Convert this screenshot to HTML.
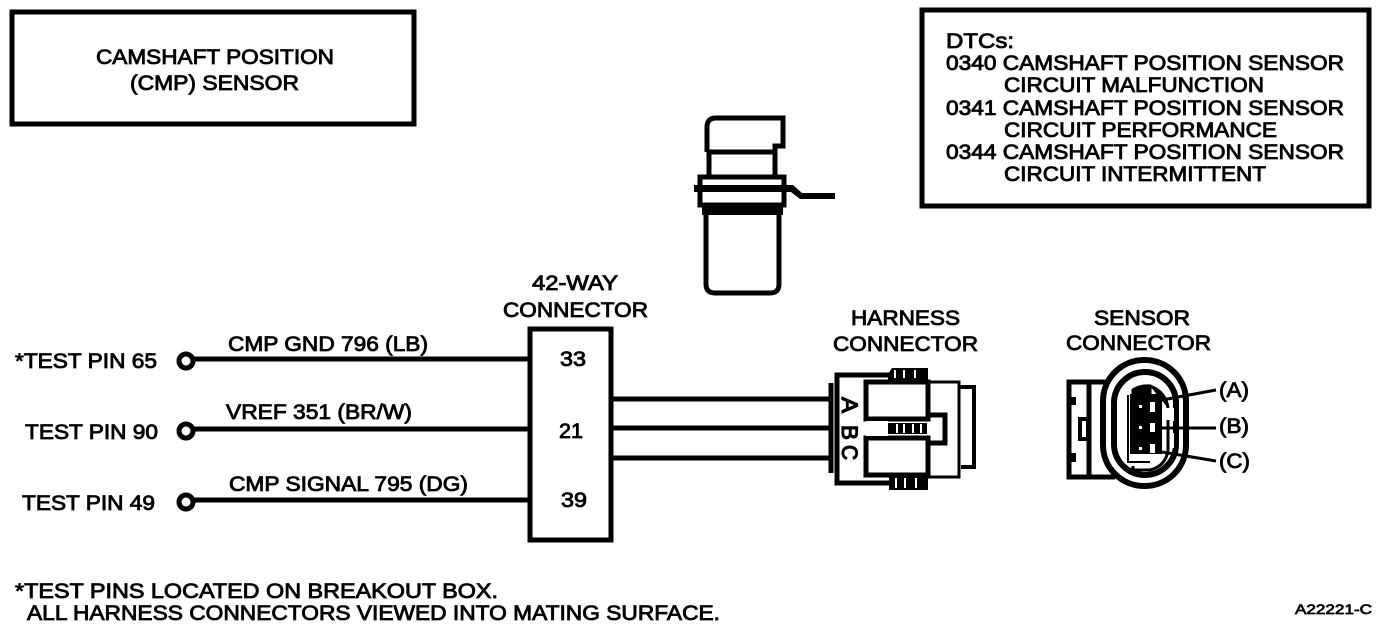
<!DOCTYPE html>
<html><head><meta charset="utf-8"><style>
html,body{margin:0;padding:0;background:#fff;width:1392px;height:628px;overflow:hidden}
svg{display:block}
text{font-family:"Liberation Sans",sans-serif;font-size:21px;fill:#000;stroke:#000;stroke-width:.85px}
.l{fill:none;stroke:#000;stroke-width:5}
</style></head><body>
<svg width="1392" height="628" viewBox="0 0 1392 628" xmlns="http://www.w3.org/2000/svg">
<rect x="12" y="12" width="402" height="112" class="l"/>
<text x="96" y="64" textLength="238" lengthAdjust="spacingAndGlyphs">CAMSHAFT POSITION</text>
<text x="130" y="90" textLength="169" lengthAdjust="spacingAndGlyphs">(CMP) SENSOR</text>
<rect x="922" y="10" width="447" height="196" class="l"/>
<text x="946" y="48" textLength="68" lengthAdjust="spacingAndGlyphs">DTCs:</text>
<text x="946" y="70" textLength="398" lengthAdjust="spacingAndGlyphs">0340 CAMSHAFT POSITION SENSOR</text>
<text x="1004" y="92" textLength="260" lengthAdjust="spacingAndGlyphs">CIRCUIT MALFUNCTION</text>
<text x="946" y="115" textLength="398" lengthAdjust="spacingAndGlyphs">0341 CAMSHAFT POSITION SENSOR</text>
<text x="1004" y="137" textLength="273" lengthAdjust="spacingAndGlyphs">CIRCUIT PERFORMANCE</text>
<text x="946" y="159" textLength="398" lengthAdjust="spacingAndGlyphs">0344 CAMSHAFT POSITION SENSOR</text>
<text x="1004" y="181" textLength="262" lengthAdjust="spacingAndGlyphs">CIRCUIT INTERMITTENT</text>

<!-- sensor -->
<path class="l" d="M707 152V127Q707 118 716 118H783V146H775V152H707M775 152V176M709 152V176"/>
<rect x="700" y="177" width="84" height="28" fill="#fff" stroke="#000" stroke-width="5"/>
<path d="M694 185H793L802 193H835V199H800L791 192H694Z" fill="#000"/>
<rect x="702" y="204" width="81" height="11" fill="#000"/>
<path class="l" d="M706 214V284Q706 293 715 293H770Q779 293 779 284V214"/>

<!-- left -->
<text x="15" y="368" textLength="142" lengthAdjust="spacingAndGlyphs">*TEST PIN 65</text>
<text x="25" y="439" textLength="133" lengthAdjust="spacingAndGlyphs">TEST PIN 90</text>
<text x="22" y="510" textLength="133" lengthAdjust="spacingAndGlyphs">TEST PIN 49</text>
<circle cx="186" cy="361" r="7" class="l"/><circle cx="186" cy="431" r="7" class="l"/><circle cx="186" cy="502" r="7" class="l"/>
<path class="l" d="M194 359H530M194 429H530M194 500H530"/>
<text x="228" y="351" textLength="200" lengthAdjust="spacingAndGlyphs">CMP GND 796 (LB)</text>
<text x="226" y="419" textLength="186" lengthAdjust="spacingAndGlyphs">VREF 351 (BR/W)</text>
<text x="229" y="491" textLength="239" lengthAdjust="spacingAndGlyphs">CMP SIGNAL 795 (DG)</text>

<text x="532" y="290" textLength="86" lengthAdjust="spacingAndGlyphs">42-WAY</text>
<text x="503" y="317" textLength="145" lengthAdjust="spacingAndGlyphs">CONNECTOR</text>
<rect x="530" y="329" width="81" height="211" class="l"/>
<text x="560" y="366" textLength="26" lengthAdjust="spacingAndGlyphs">33</text>
<text x="559" y="438" textLength="24" lengthAdjust="spacingAndGlyphs">21</text>
<text x="561" y="507" textLength="26" lengthAdjust="spacingAndGlyphs">39</text>
<path class="l" d="M611 399H830M611 428H830M611 458H830"/>

<!-- harness -->
<text x="851" y="325" textLength="109" lengthAdjust="spacingAndGlyphs">HARNESS</text>
<text x="833" y="351" textLength="145" lengthAdjust="spacingAndGlyphs">CONNECTOR</text>
<path d="M888 374L892 368H928V380H888ZM889 476H928V490H889Z" fill="#000"/>
<path d="M895 370V378M904 370V378M915 370V378M896 478V488M905 478V488M916 478V488" stroke="#fff" stroke-width="2"/>
<path d="M831 383V473" stroke="#000" stroke-width="5" fill="none"/>
<path d="M889 375H837V483H892" fill="none" stroke="#000" stroke-width="5"/>
<!-- plug blocks -->
<path class="l" d="M866 382H928V419H866ZM866 438H928V475H866Z" fill="#fff"/>
<path d="M928 382H959V477H926" fill="none" stroke="#000" stroke-width="3"/>
<path class="l" d="M928 415H945V443H926"/>
<path d="M888 423H927V434H888Z" fill="#000"/>
<path d="M897 424V433M904 424V433M913 424V433M921 424V433" stroke="#fff" stroke-width="2"/>
<path d="M960 387H974V467H961" fill="none" stroke="#000" stroke-width="4"/>
<rect x="866" y="421" width="22" height="15" fill="#fff"/>
<text transform="translate(842,397) rotate(90)" style="font-size:22px;stroke-width:1.2px" textLength="16" lengthAdjust="spacingAndGlyphs">A</text>
<text transform="translate(842,425) rotate(90)" style="font-size:22px;stroke-width:1.2px" textLength="15" lengthAdjust="spacingAndGlyphs">B</text>
<text transform="translate(842,445) rotate(90)" style="font-size:22px;stroke-width:1.2px" textLength="15" lengthAdjust="spacingAndGlyphs">C</text>

<!-- sensor connector -->
<text x="1094" y="325" textLength="96" lengthAdjust="spacingAndGlyphs">SENSOR</text>
<text x="1066" y="350" textLength="145" lengthAdjust="spacingAndGlyphs">CONNECTOR</text>
<path class="l" d="M1115 382H1069V477H1115"/>
<path d="M1089 382V477" fill="none" stroke="#000" stroke-width="5"/>
<path d="M1069 397H1076V405H1069ZM1069 453H1076V462H1069Z" fill="#000"/>
<rect x="1080" y="419" width="8" height="20" fill="#fff" stroke="#000" stroke-width="4"/>
<rect x="1103" y="360" width="83" height="126" rx="41" fill="#fff" stroke="#000" stroke-width="6"/>
<rect x="1114" y="372" width="62" height="103" rx="31" fill="#fff" stroke="#000" stroke-width="6"/>
<path d="M1128 395V462H1150" fill="none" stroke="#000" stroke-width="2"/>
<path d="M1150 386Q1166 392 1168 408M1133 390Q1140 385 1150 386V395H1133Z" fill="#000" stroke="#000" stroke-width="3"/>
<path d="M1168 420V450Q1166 466 1150 470H1133V466" fill="none" stroke="#000" stroke-width="3"/>
<rect x="1130" y="394" width="32" height="60" fill="#000"/>
<path d="M1150 402H1155V412H1150ZM1150 423H1155V432H1150ZM1150 444H1155V453H1150Z" fill="#fff"/>
<path d="M1139 405H1142V408H1139ZM1139 426H1142V429H1139ZM1139 447H1142V450H1139Z" fill="#fff"/>
<path d="M1162 400L1216 390M1162 428H1216M1162 452L1216 461" fill="none" stroke="#000" stroke-width="3"/>
<path d="M1170 408H1174V421H1170ZM1170 433H1174V448H1170Z" fill="#fff"/>
<text x="1219" y="397" textLength="30" lengthAdjust="spacingAndGlyphs">(A)</text>
<text x="1219" y="433" textLength="30" lengthAdjust="spacingAndGlyphs">(B)</text>
<text x="1219" y="468" textLength="31" lengthAdjust="spacingAndGlyphs">(C)</text>

<!-- footer -->
<text x="15" y="598" textLength="483" lengthAdjust="spacingAndGlyphs">*TEST PINS LOCATED ON BREAKOUT BOX.</text>
<text x="27" y="620" textLength="693" lengthAdjust="spacingAndGlyphs">ALL HARNESS CONNECTORS VIEWED INTO MATING SURFACE.</text>
<text x="1295" y="614" textLength="77" lengthAdjust="spacingAndGlyphs" style="font-size:14px;stroke-width:.7px">A22221-C</text>
</svg>
</body></html>
